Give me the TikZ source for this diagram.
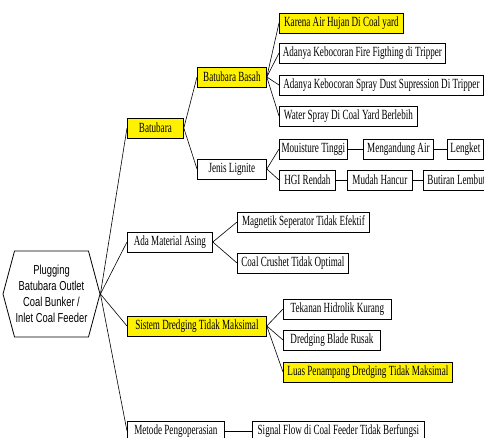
\documentclass[tikz,border=0pt]{standalone}
\usepackage{fontspec}
\newfontfamily\boxfont[FakeStretch=0.65]{Liberation Serif}
\newfontfamily\hexfont[FakeStretch=0.72]{Liberation Sans}
\usetikzlibrary{shapes.symbols}

\begin{document}
\begin{tikzpicture}[x=1pt, y=-1pt,
	every node/.style={draw, line width=0.8pt, inner sep=0pt, minimum height=20pt, anchor=west, font=\boxfont\fontsize{14}{16}\selectfont},
	link/.style={line width=0.6pt}]
	\useasboundingbox (0,0) rectangle (484,437);
	% akar masalah
	\node[signal, signal to=west and east, signal pointer angle=150, minimum width=97pt, minimum height=86pt, align=center, anchor=center, font=\hexfont\fontsize{13}{16}\selectfont] (root) at (51.5,294) {Plugging\\Batubara Outlet\\Coal Bunker /\\Inlet Coal Feeder};
	% kotak penyebab
	\foreach \name/\x/\y/\w/\fc/\txt in {
		batubara/127/128/56/yellow/Batubara,
		basah/197/77/69/yellow/Batubara Basah,
		lignite/197/169/69/white/Jenis Lignite,
		hujan/279/23/124/yellow/Karena Air Hujan Di Coal yard,
		fire/279/53/166/white/Adanya Kebocoran Fire Figthing di Tripper,
		spray/279/85/204/white/Adanya Kebocoran Spray Dust Supression Di Tripper,
		water/279/116/138/white/Water Spray Di Coal Yard Berlebih,
		moist/279/149/68/white/Mouisture Tinggi,
		mengandung/363/149/70/white/Mengandung Air,
		lengket/447/149/36/white/Lengket,
		hgi/279/180/56/white/HGI Rendah,
		mudah/347/180/65/white/Mudah Hancur,
		butiran/423/180/66/white/Butiran Lembut,
		asing/127/242/85/white/Ada Material Asing,
		magnetik/237/222/132/white/Magnetik Seperator Tidak Efektif,
		crushet/237/263/111/white/Coal Crushet Tidak Optimal,
		dredging/127/326/139/yellow/Sistem Dredging Tidak Maksimal,
		tekanan/283/309/108/white/Tekanan Hidrolik Kurang,
		blade/283/340/97/white/Dredging Blade Rusak,
		luas/283/372/169/yellow/Luas Penampang Dredging Tidak Maksimal,
		metode/127/431/97/white/Metode Pengoperasian,
		signal/252/431/172/white/Signal Flow di Coal Feeder Tidak Berfungsi}
	{
		\node[fill=\fc, minimum width=\w pt] (\name) at (\x,\y) {\txt};
	}
	% garis penghubung
	\foreach \a/\b in {root/batubara, root/asing, root/dredging, root/metode,
		batubara/basah, batubara/lignite,
		basah/hujan, basah/fire, basah/spray, basah/water,
		lignite/moist, lignite/hgi, moist/mengandung, mengandung/lengket,
		hgi/mudah, mudah/butiran,
		asing/magnetik, asing/crushet,
		dredging/tekanan, dredging/blade, dredging/luas,
		metode/signal}
	{
		\draw[link] (\a.east) -- (\b.west);
	}
\end{tikzpicture}
\end{document}
